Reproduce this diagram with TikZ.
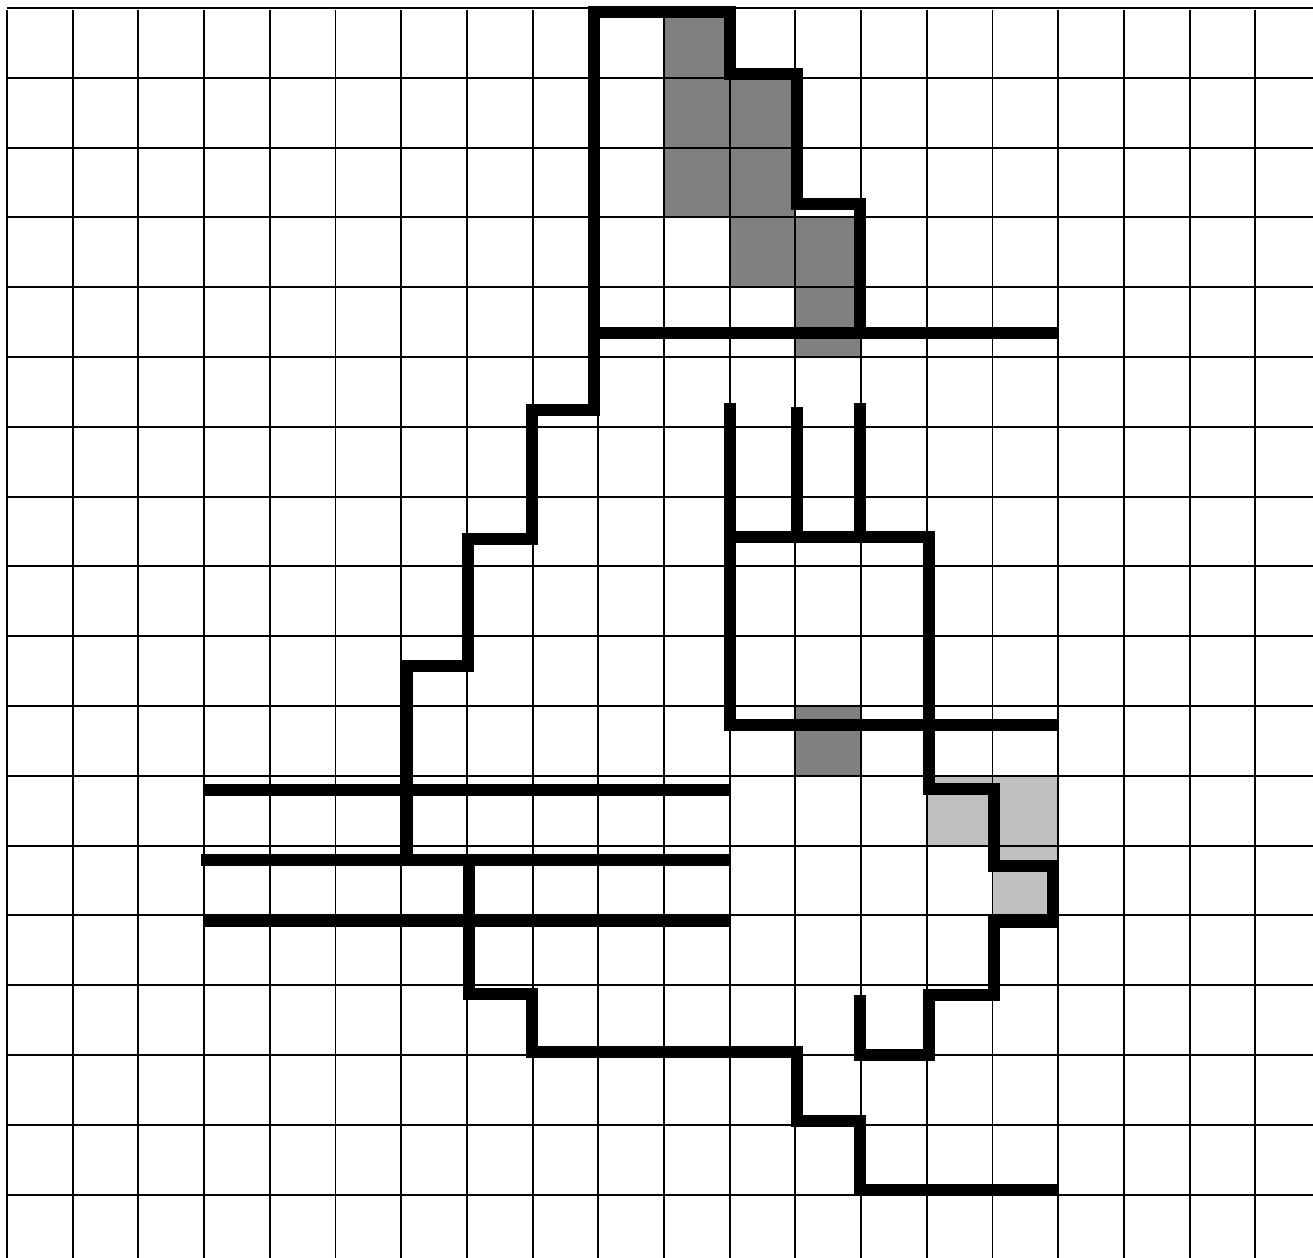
\documentclass[tikz,border=0pt]{standalone}
\begin{document}
\begin{tikzpicture}[x=1.314cm,y=-1.396cm]
  \tikzstyle{gridline}=[line width=1.1pt]
  \tikzstyle{wall}=[line width=6.8pt,line join=miter]
  \tikzstyle{dark}=[fill=black!50]
  \tikzstyle{light}=[fill=black!25]
  \useasboundingbox (-0.1065,-0.1146) rectangle (19.878,17.908);
  % shaded cells
  \foreach \i/\j in {10/0,10/1,10/2,11/1,11/2,11/3,12/3,12/4,12/10}
    \fill[dark] (\i,\j) rectangle ++(1,1);
  \foreach \i/\j in {14/11,15/11,15/12}
    \fill[light] (\i,\j) rectangle ++(1,1);
  % grid
  \foreach \i in {0,...,19}
    \draw[gridline] (\i,0.03) -- (\i,17.908);
  \foreach \j in {0,...,17}
    \draw[gridline] (0,\j) -- (19.878,\j);
  % upper outline
  \draw[wall] (12.98,4.66) -- (12.98,2.81) -- (12.02,2.81) -- (12.02,0.946)
    -- (11.005,0.946) -- (11.005,0.057) -- (8.935,0.057) -- (8.935,5.76)
    -- (7.99,5.76) -- (7.99,7.61) -- (7.02,7.61) -- (7.02,9.43)
    -- (6.09,9.43) -- (6.09,12.21);
  \draw[wall] (8.935,4.66) -- (16,4.66);
  % bars
  \draw[wall] (2.98,11.2) -- (11.005,11.2);
  \draw[wall] (2.95,12.21) -- (10.99,12.21);
  \draw[wall] (2.98,13.08) -- (11.005,13.08);
  % lower outline
  \draw[wall] (7.03,12.21) -- (7.03,14.13) -- (7.99,14.13) -- (7.99,14.96)
    -- (12.02,14.96) -- (12.02,15.95) -- (12.98,15.95) -- (12.98,16.93) -- (16,16.93);
  \draw[wall] (12.98,14.14) -- (12.98,15.0) -- (14.03,15.0) -- (14.03,14.14)
    -- (15.02,14.14) -- (15.02,13.09) -- (15.92,13.09) -- (15.92,12.29)
    -- (15.02,12.29) -- (15.02,11.19) -- (14.03,11.19) -- (14.03,7.58) -- (11.005,7.58);
  % box and prongs
  \draw[wall] (11.005,5.66) -- (11.005,10.27) -- (16,10.27);
  \draw[wall] (12.02,5.72) -- (12.02,7.58);
  \draw[wall] (12.98,5.66) -- (12.98,7.58);
\end{tikzpicture}
\end{document}
